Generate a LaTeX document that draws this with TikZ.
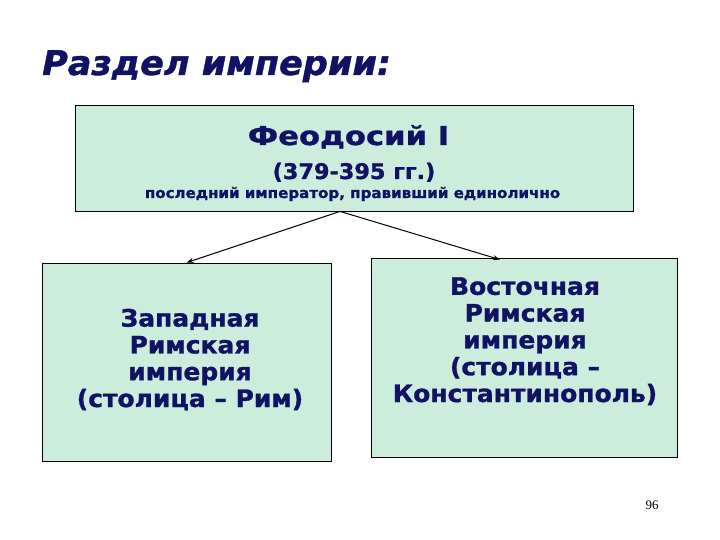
\documentclass[tikz,border=0pt]{standalone}
\usepackage{fontspec}
\setmainfont{DejaVu Sans}
\newfontfamily\titlefont[FakeStretch=1.03,FakeBold=1.2]{DejaVu Sans}
\newfontfamily\namefont[FakeStretch=1.18,FakeBold=1.2]{DejaVu Sans}
\newfontfamily\empfont[FakeStretch=1.04,FakeBold=1.2]{DejaVu Sans}
\newfontfamily\pagefont{Liberation Serif}
\usetikzlibrary{arrows.meta,positioning,calc}

\definecolor{boxgreen}{RGB}{204,236,220}
\definecolor{inkblue}{RGB}{18,18,100}

\tikzset{
	empbox/.style={draw=black, fill=boxgreen, line width=0.8pt, inner sep=0pt},
	boxtext/.style={text=inkblue, inner sep=0pt, font=\empfont\bfseries\fontsize{24}{26.8}\selectfont, align=center},
	linetext/.style={text=inkblue, inner sep=0pt, anchor=base},
	link/.style={-{Stealth[length=7pt,width=5pt]}, line width=1pt},
}

\begin{document}
\begin{tikzpicture}[x=1pt,y=-1pt]

	\useasboundingbox (0,0) rectangle (720,540);

	\node[linetext, anchor=base west, font=\titlefont\bfseries\itshape\fontsize{34}{40}\selectfont] (title) at (42,75) {Раздел империи:};

	% boxes
	\node[empbox, minimum width=558pt, minimum height=106pt] (ruler) at (354,158) {};
	\node[empbox, minimum width=289pt, minimum height=198pt] (west) at (186.5,362) {};
	\node[empbox, minimum width=306pt, minimum height=199pt] (east) at (524,357.5) {};

	% texts
	\node[linetext, font=\namefont\bfseries\fontsize{26}{30}\selectfont] (name) at (348.5,145) {Феодосий I};
	\node[linetext, font=\empfont\bfseries\fontsize{21.5}{24}\selectfont] (years) at (354,179) {(379-395 гг.)};
	\node[linetext, font=\empfont\bfseries\fontsize{14.5}{17}\selectfont] (note) at (352.5,198) {последний император, правивший единолично};

	% base = last line
	\node[boxtext, anchor=base] (westtext) at (190,407) {Западная\\Римская\\империя\\(столица – Рим)};
	\node[boxtext, anchor=base] (easttext) at (525,402) {Восточная\\Римская\\империя\\(столица –\\Константинополь)};

	% arrows
	\coordinate (fork) at ($(ruler.south)+(-14,0)$);
	\coordinate (eastin) at ($(east.north)+(-24,2)$);
	\draw[link] (fork) -- (west.north);
	\draw[link] (fork) -- (eastin);

	\node[font=\pagefont\fontsize{13}{15}\selectfont] (page) at (652,505) {96};

\end{tikzpicture}
\end{document}
